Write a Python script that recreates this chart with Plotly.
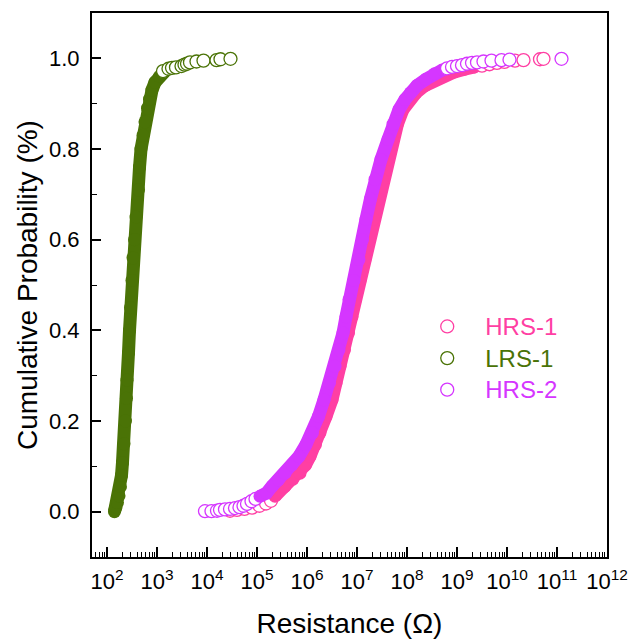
import plotly.graph_objects as go

# ---------------- data ----------------
# HRS-1
hrs1_tail_low_res = [2.884e4, 3.981e4, 5.623e4, 7.943e4, 1.122e5, 1.514e5, 1.905e5]
hrs1_tail_low_prob = [0.002, 0.004, 0.006, 0.009, 0.013, 0.018, 0.024]
hrs1_res = [2.291e5, 3.631e5, 5.248e5, 7.244e5, 9.333e5, 1.148e6, 1.479e6, 1.820e6,
            2.399e6, 3.162e6, 3.802e6, 4.571e6, 5.623e6, 6.761e6, 7.943e6, 9.333e6,
            1.148e7, 1.445e7, 1.778e7, 2.138e7, 2.630e7, 3.162e7, 3.981e7, 5.012e7,
            6.457e7, 8.318e7, 1.122e8, 1.514e8, 2.291e8, 3.548e8, 5.623e8, 8.913e8,
            1.413e9, 2.239e9]
hrs1_prob = [0.034, 0.056, 0.072, 0.085, 0.103, 0.122, 0.148, 0.174,
             0.21, 0.247, 0.284, 0.321, 0.357, 0.394, 0.43, 0.468,
             0.51, 0.556, 0.60, 0.645, 0.69, 0.733, 0.777, 0.821,
             0.855, 0.887, 0.909, 0.924, 0.94, 0.952, 0.962, 0.970,
             0.976, 0.981]
hrs1_tail_high_res = [3.162e9, 4.467e9, 6.310e9, 8.913e9, 1.445e10, 2.138e10, 4.571e10, 5.370e10]
hrs1_tail_high_prob = [0.984, 0.987, 0.990, 0.992, 0.995, 0.996, 0.998, 0.999]

# LRS-1
lrs1_res = [141, 145, 151, 162, 174, 186, 195, 204, 219, 234, 245, 251, 269, 282, 295,
            316, 331, 355, 380, 427, 447, 479, 525, 575, 646, 708, 794, 912, 1122, 1413]
lrs1_prob = [0.000, 0.005, 0.01, 0.02, 0.035, 0.055, 0.08, 0.108, 0.15, 0.2, 0.25, 0.29,
             0.35, 0.4, 0.45, 0.51, 0.56, 0.60, 0.65, 0.71, 0.76, 0.80, 0.83, 0.86,
             0.89, 0.91, 0.93, 0.947, 0.96, 0.97]
lrs1_tail_high_res = [1318, 1698, 1995, 2399, 3090, 3548, 3981, 4571, 6166, 8511, 15488, 18621, 29512]
lrs1_tail_high_prob = [0.972, 0.977, 0.979, 0.980, 0.983, 0.986, 0.988, 0.991, 0.993, 0.995,
                       0.996, 0.998, 0.999]

# HRS-2
hrs2_tail_low_res = [9120, 12303, 15849, 18197, 22909, 28840, 36308, 44668, 53703, 63096, 77625, 93325]
hrs2_tail_low_prob = [0.001, 0.001, 0.002, 0.004, 0.005, 0.006, 0.008, 0.010, 0.013, 0.017, 0.023, 0.028]
hrs2_res = [1.148e5, 1.549e5, 1.995e5, 2.692e5, 3.631e5, 5.012e5, 6.918e5, 9.550e5,
            1.288e6, 1.698e6, 2.188e6, 2.818e6, 3.631e6, 4.365e6, 5.248e6, 6.026e6,
            6.918e6, 8.710e6, 1.096e7, 1.288e7, 1.514e7, 1.862e7, 2.291e7, 3.020e7,
            4.169e7, 5.248e7, 6.918e7, 9.120e7, 1.175e8, 1.585e8, 2.399e8, 3.548e8,
            5.248e8]
hrs2_prob = [0.034, 0.041, 0.056, 0.07, 0.085, 0.103, 0.122, 0.148,
             0.174, 0.21, 0.247, 0.284, 0.321, 0.357, 0.394, 0.43,
             0.468, 0.51, 0.556, 0.60, 0.645, 0.69, 0.733, 0.777,
             0.821, 0.855, 0.887, 0.909, 0.924, 0.94, 0.954, 0.966,
             0.975]
hrs2_tail_high_res = [6.310e8, 7.943e8, 1.0e9, 1.259e9, 1.585e9, 1.995e9, 2.512e9, 3.388e9,
                      4.898e9, 7.762e9, 1.122e10, 1.230e11]
hrs2_tail_high_prob = [0.978, 0.981, 0.983, 0.985, 0.988, 0.990, 0.991, 0.993,
                       0.995, 0.996, 0.997, 0.999]

x_tick_exponents = [2, 3, 4, 5, 6, 7, 8, 9, 10, 11, 12]
y_tick_values = [0.0, 0.2, 0.4, 0.6, 0.8, 1.0]

# ---------------- style ----------------
C_HRS1 = "#ff3fa3"
C_LRS1 = "#4a7306"
C_HRS2 = "#d536ff"
MS = 13
FONT = "Arial, 'Liberation Sans', sans-serif"

fig = go.Figure()


def open_markers(x, y, color, name=None, show=False):
    return go.Scatter(
        x=x, y=y, mode="markers", name=name, showlegend=show,
        marker=dict(symbol="circle", size=MS, color="white",
                    line=dict(color=color, width=1.3)),
        hoverinfo="x+y",
    )


def body(x, y, color):
    return go.Scatter(
        x=x, y=y, mode="lines+markers", showlegend=False,
        line=dict(color=color, width=MS),
        marker=dict(symbol="circle", size=MS, color=color, line=dict(width=0)),
        hoverinfo="x+y",
    )


def label(text, color):
    return f"<span style='color:{color};font-size:24px'>{text}</span>"


# HRS-1
fig.add_trace(open_markers(hrs1_tail_low_res, hrs1_tail_low_prob, C_HRS1))
fig.add_trace(body(hrs1_res, hrs1_prob, C_HRS1))
fig.add_trace(open_markers(hrs1_tail_high_res, hrs1_tail_high_prob, C_HRS1,
                           name=label("HRS-1", C_HRS1), show=True))
# LRS-1
fig.add_trace(body(lrs1_res, lrs1_prob, C_LRS1))
fig.add_trace(open_markers(lrs1_tail_high_res, lrs1_tail_high_prob, C_LRS1,
                           name=label("LRS-1", C_LRS1), show=True))
# HRS-2
fig.add_trace(open_markers(hrs2_tail_low_res, hrs2_tail_low_prob, C_HRS2))
fig.add_trace(body(hrs2_res, hrs2_prob, C_HRS2))
fig.add_trace(open_markers(hrs2_tail_high_res, hrs2_tail_high_prob, C_HRS2,
                           name=label("HRS-2", C_HRS2), show=True))

minor_x = [m * 10 ** e for e in range(1, 12) for m in range(2, 10)]

fig.update_layout(
    width=631, height=639,
    margin=dict(l=92, r=24, t=13, b=82),
    paper_bgcolor="white", plot_bgcolor="white",
    font=dict(family=FONT, color="black"),
    showlegend=True,
    legend=dict(
        x=0.616, y=0.462, xanchor="left", yanchor="top",
        bgcolor="rgba(0,0,0,0)", borderwidth=0,
        font=dict(family=FONT, size=22),
        itemwidth=66, tracegroupgap=0,
    ),
    xaxis=dict(
        type="log", range=[1.7, 12.0], automargin=False,
        tickmode="array",
        tickvals=[10 ** e for e in x_tick_exponents],
        ticktext=[f"10<sup>{e}</sup>" for e in x_tick_exponents],
        ticks="inside", ticklen=10, tickwidth=1.5, tickcolor="black",
        minor=dict(tickmode="array", tickvals=minor_x, ticks="inside",
                   ticklen=5, tickwidth=1.2, tickcolor="black"),
        showline=True, linewidth=2, linecolor="black", mirror=True,
        showgrid=False, zeroline=False,
        tickfont=dict(family=FONT, size=22, color="black"),
        title=dict(text="Resistance (Ω)", font=dict(family=FONT, size=28, color="black"),
                   standoff=27),
        ticklabelstandoff=4,
    ),
    yaxis=dict(
        range=[-0.1, 1.1], automargin=False,
        tickmode="array", tickvals=y_tick_values,
        ticktext=[f"{v:.1f}" for v in y_tick_values],
        ticks="inside", ticklen=9, tickwidth=1.5, tickcolor="black",
        minor=dict(tickmode="array", tickvals=[0.1, 0.3, 0.5, 0.7, 0.9], ticks="inside",
                   ticklen=5, tickwidth=1.2, tickcolor="black"),
        showline=True, linewidth=2, linecolor="black", mirror=True,
        showgrid=False, zeroline=False,
        tickfont=dict(family=FONT, size=22, color="black"),
        title=dict(text="Cumulative Probability (%)",
                   font=dict(family=FONT, size=28, color="black"), standoff=3),
        ticklabelstandoff=6,
    ),
)

fig.write_html("out.html", config={"displayModeBar": False},
               post_script="document.body.style.margin='0';document.body.style.overflow='hidden';")
